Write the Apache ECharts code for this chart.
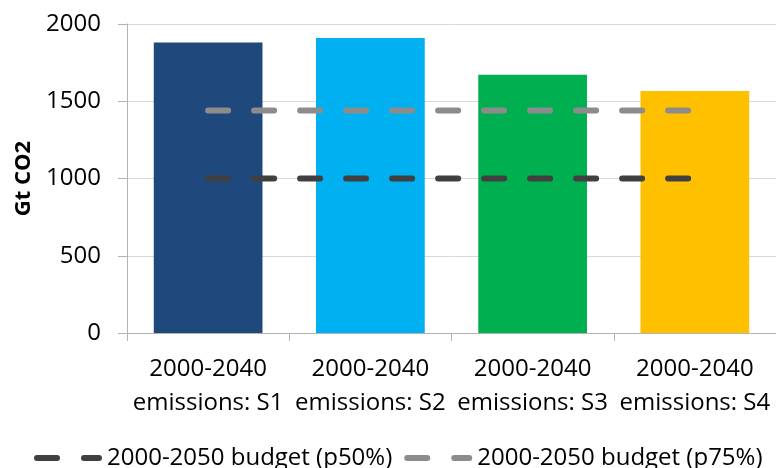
<!DOCTYPE html>
<html>
<head>
<meta charset="utf-8">
<style>
  html, body { margin: 0; padding: 0; background: #ffffff; }
  #chart { width: 776px; height: 468px; }
</style>
<script src="https://cdn.jsdelivr.net/npm/echarts@6/dist/echarts.min.js"></script>
</head>
<body>
<div id="chart"></div>
<script>
// Cumulative emissions per scenario vs. carbon budgets (Gt CO2)
const categories = [
  '2000-2040\nemissions: S1',
  '2000-2040\nemissions: S2',
  '2000-2040\nemissions: S3',
  '2000-2040\nemissions: S4'
];
const emissions = [1880, 1910, 1672, 1566];
const barColors = ['#1F497D', '#00B0F0', '#00B050', '#FFC000'];
const budgetP50 = [1000, 1000, 1000, 1000];
const budgetP75 = [1440, 1440, 1440, 1440];
const yTicks = { min: 0, max: 2000, interval: 500 };

const font = '"Open Sans", "Noto Sans", sans-serif';

// Legend marker: two rounded dashes, like the dashed budget lines
const dashIcon = 'path://M3,0 L23,0 A3,3 0 0 1 23,6 L3,6 A3,3 0 0 1 3,0 Z ' +
                 'M50,0 L65,0 A3,3 0 0 1 65,6 L50,6 A3,3 0 0 1 50,0 Z';

const chart = echarts.init(document.getElementById('chart'), null, { renderer: 'canvas' });

const dashed = (color) => ({
  color: color,
  width: 6,
  type: [20, 26],
  cap: 'round'
});

chart.setOption({
  animation: false,
  textStyle: { fontFamily: font },
  grid: { left: 127, right: -4, top: 24, bottom: 135, containLabel: false },
  legend: {
    left: 29,
    top: 441,
    itemWidth: 68,
    itemHeight: 6,
    itemGap: 12,
    icon: dashIcon,
    textStyle: { fontFamily: font, fontSize: 24, color: '#000000' },
    data: ['2000-2050 budget (p50%)', '2000-2050 budget (p75%)']
  },
  xAxis: {
    type: 'category',
    data: categories,
    axisLine: { show: true, lineStyle: { color: '#B3B3B3', width: 1 } },
    axisTick: { show: true, alignWithLabel: false, length: 8, lineStyle: { color: '#B3B3B3' } },
    axisLabel: {
      interval: 0,
      margin: 19,
      fontFamily: font,
      fontSize: 24,
      lineHeight: 34,
      color: '#000000'
    }
  },
  yAxis: {
    type: 'value',
    min: yTicks.min,
    max: yTicks.max,
    interval: yTicks.interval,
    name: 'Gt CO2',
    nameLocation: 'middle',
    nameGap: 91,
    nameTextStyle: { fontFamily: font, fontSize: 22, fontWeight: 'bold', color: '#000000' },
    axisLine: { show: true, lineStyle: { color: '#B3B3B3', width: 1 } },
    axisTick: { show: true, inside: false, length: 9, lineStyle: { color: '#B3B3B3' } },
    axisLabel: {
      margin: 26,
      fontFamily: font,
      fontSize: 24,
      color: '#000000',
      formatter: (v) => String(v)
    },
    splitLine: { show: true, lineStyle: { color: '#D9D9D9', width: 1 } }
  },
  series: [
    {
      name: 'emissions',
      type: 'bar',
      barWidth: '67%',
      data: emissions.map((v, i) => ({ value: v, itemStyle: { color: barColors[i] } })),
      z: 1
    },
    {
      name: '2000-2050 budget (p50%)',
      type: 'line',
      data: budgetP50,
      symbol: 'none',
      itemStyle: { color: '#404040' },
      lineStyle: dashed('#404040'),
      z: 3
    },
    {
      name: '2000-2050 budget (p75%)',
      type: 'line',
      data: budgetP75,
      symbol: 'none',
      itemStyle: { color: '#8C8C8C' },
      lineStyle: dashed('#8C8C8C'),
      z: 3
    }
  ]
});
</script>
</body>
</html>
